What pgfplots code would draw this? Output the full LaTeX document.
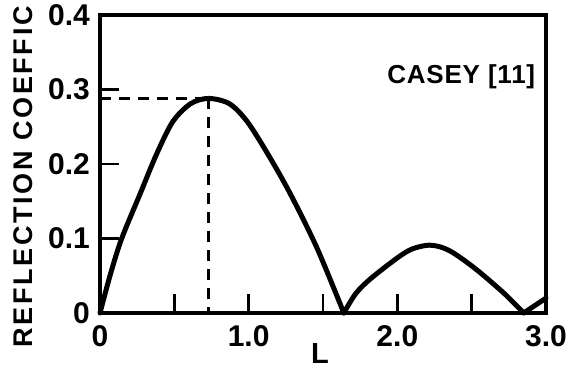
\documentclass[border=0pt]{standalone}
\usepackage{fontspec}
\setmainfont{Liberation Sans}
\newfontfamily\spacedfont{Liberation Sans}[LetterSpace=10]
\newfontfamily\notefont{Liberation Sans}[LetterSpace=3]
\usepackage{pgfplots}
\pgfplotsset{compat=1.18}

\begin{document}
\begin{tikzpicture}
\begin{axis}[
  scale only axis,
  width=446pt, height=298pt,
  xmin=0, xmax=3, ymin=0, ymax=0.4,
  axis line style={line width=4pt},
  xtick={0,0.5,1,1.5,2,2.5,3},
  xticklabels={0,,1.0,,2.0,,3.0},
  ytick={0,0.1,0.2,0.3,0.4},
  yticklabels={0,0.1,0.2,0.3,0.4},
  tick align=inside,
  tick pos=left,
  major tick length=19pt,
  tick style={line width=2.8pt, black},
  ticklabel style={inner sep=0pt, font=\fontsize{30}{31}\selectfont\bfseries},
  xticklabel shift=12pt,
  yticklabel shift=10pt,
  clip=false,
]
\coordinate (ll) at (rel axis cs:0,0);
\coordinate (ur) at (rel axis cs:1,1);

% reflection coefficient versus L: three lobes with sharp zeros
\addplot[line width=5pt, smooth, line join=round, line cap=round] coordinates {
  (0,0) (0.07,0.052) (0.146,0.1) (0.27,0.16) (0.38,0.213) (0.49,0.257)
  (0.61,0.281) (0.73,0.288) (0.87,0.281) (0.99,0.257) (1.13,0.213)
  (1.28,0.16) (1.46,0.087) (1.64,0)
};
\addplot[line width=5pt, smooth, line join=round, line cap=round] coordinates {
  (1.64,0) (1.72,0.026) (1.82,0.046) (2.0,0.074) (2.1,0.086) (2.21,0.091)
  (2.3,0.088) (2.39,0.079) (2.54,0.057) (2.72,0.026) (2.85,0)
};
\addplot[line width=5pt, line cap=round] coordinates {
  (2.85,0) (3.0,0.02)
};

% peak marker
\addplot[line width=2.8pt, dash pattern=on 11pt off 8pt] coordinates {
  (0,0.288) (0.73,0.288)
};
\addplot[line width=2.8pt, dash pattern=on 11pt off 8pt] coordinates {
  (0.73,0.288) (0.73,0)
};

\node[font=\notefont\bfseries\fontsize{26}{27}\selectfont, inner sep=0pt]
  at (axis cs:2.43,0.317) {CASEY [11]};
\end{axis}

\node[rotate=90, anchor=west, inner sep=0pt,
      font=\spacedfont\bfseries\fontsize{27}{28}\selectfont]
  at ([shift={(-77pt,-35pt)}]ll) {REFLECTION COEFFIC};
\node[anchor=north, inner sep=0pt, font=\fontsize{29}{30}\selectfont\bfseries]
  at ([shift={(220pt,-30pt)}]ll) {L};

\pgfresetboundingbox
\path ([shift={(-100pt,-58pt)}]ll) rectangle ([shift={(29pt,15pt)}]ur);
\end{tikzpicture}
\end{document}
